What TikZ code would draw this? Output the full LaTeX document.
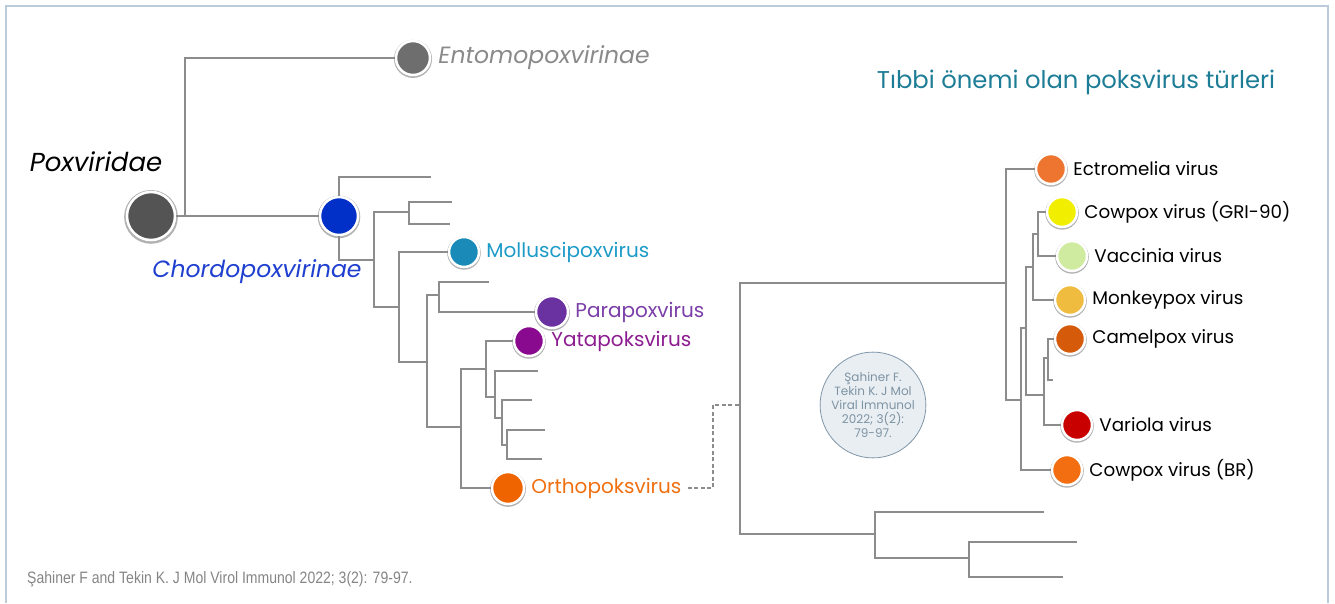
\documentclass[tikz,border=0pt]{standalone}
\usepackage{fontspec}
\setmainfont{Poppins}
\newfontfamily\footfont[FakeStretch=0.85]{Liberation Sans}
\usetikzlibrary{positioning,shadows}

\definecolor{branchgray}{HTML}{8C8C8C}
\definecolor{framecol}{HTML}{BCCBDA}
\definecolor{titlecol}{HTML}{1E7D96}
\definecolor{rootcol}{HTML}{545454}
\definecolor{entocol}{HTML}{6E6E6E}
\definecolor{entotxt}{HTML}{8A8A8A}
\definecolor{chordocol}{HTML}{0030C8}
\definecolor{chordotxt}{HTML}{1F3FD0}
\definecolor{mollcol}{HTML}{1A8AB8}
\definecolor{molltxt}{HTML}{1D9BC8}
\definecolor{paracol}{HTML}{6A32A0}
\definecolor{paratxt}{HTML}{7B3EA8}
\definecolor{yatacol}{HTML}{8A0A8F}
\definecolor{yatatxt}{HTML}{8C1C90}
\definecolor{orthocol}{HTML}{F06400}
\definecolor{orthotxt}{HTML}{F07010}
\definecolor{ectrocol}{HTML}{EE7530}
\definecolor{gricol}{HTML}{F2EE00}
\definecolor{vacccol}{HTML}{CFEBA0}
\definecolor{monkcol}{HTML}{F0BC40}
\definecolor{camelcol}{HTML}{D55A0A}
\definecolor{varcol}{HTML}{C80000}
\definecolor{brcol}{HTML}{F26E10}
\definecolor{citefill}{HTML}{E9EEF2}
\definecolor{citedraw}{HTML}{8096A8}
\definecolor{citetxt}{HTML}{7D93A3}
\definecolor{foottxt}{HTML}{858585}

\begin{document}
\begin{tikzpicture}[
        x=1pt, y=-1pt,
        branch/.style={draw=branchgray, line width=1.5pt},
        dashlink/.style={draw=branchgray, line width=1.2pt, dash pattern=on 4pt off 2.5pt},
        dot/.style={circle, fill=#1, draw=white, line width=2.5pt, minimum size=30pt,
            inner sep=0pt, drop shadow={shadow xshift=0pt, shadow yshift=-0.8pt,
            shadow scale=1.12, opacity=0.3, fill=black}},
        lab/.style={inner sep=1pt, font=\fontsize{18.3}{21}\selectfont},
        sublab/.style={inner sep=1pt, font=\fontsize{20}{23}\selectfont},
        ]
        \useasboundingbox (0,0) rectangle (1335,603);
        \draw[framecol, line width=1.2pt] (6,603) -- (6,6) -- (1328,6) -- (1328,603);

        % left tree
        \node (root) at (151,216) [dot=rootcol, minimum size=48pt] {};
        \node (poxlab) at (96,162) [font=\fontsize{26}{30}\selectfont\itshape] {Poxviridae};
        \node (ento) at (413,58) [dot=entocol, minimum size=34pt] {};
        \node (entolab) [right=6pt of ento, inner sep=1pt, text=entotxt,
            font=\fontsize{23.5}{27}\selectfont\itshape] {Entomopoxvirinae};
        \node (chordo) at (339,216) [dot=chordocol, minimum size=38pt] {};
        \node (chordolab) at (257,272) [text=chordotxt,
            font=\fontsize{23.5}{27}\selectfont\itshape] {Chordopoxvirinae};
        \node (moll) at (464,252) [dot=mollcol] {};
        \node (mollab) [right=5pt of moll, sublab, text=molltxt] {Molluscipoxvirus};
        \node (para) at (552,312) [dot=paracol, minimum size=32pt] {};
        \node (paralab) [right=5pt of para, sublab, text=paratxt] {Parapoxvirus};
        \node (yata) at (529,341) [dot=yatacol] {};
        \node (yatalab) [right=5pt of yata, sublab, text=yatatxt] {Yatapoksvirus};
        \node (ortho) at (508,488) [dot=orthocol, minimum size=32pt] {};
        \node (ortholab) [right=5pt of ortho, sublab, text=orthotxt] {Orthopoksvirus};

        \coordinate (r1) at (185,216);
        \coordinate (c2) at (374,260);
        \coordinate (c3) at (409,212);
        \coordinate (c4) at (399,307);
        \coordinate (c5) at (427,362);
        \coordinate (c6) at (439,295);
        \coordinate (c7) at (461,427);
        \coordinate (c8) at (486,369);
        \coordinate (c9) at (495,397);
        \coordinate (c10) at (502,418);
        \coordinate (c11) at (507,445);

        \draw[branch] (root) -- (chordo);
        \draw[branch] (r1) |- (ento);
        \draw[branch] (chordo) |- (431,177);
        \draw[branch] (chordo) |- (c2);
        \draw[branch] (c2) |- (c3);
        \draw[branch] (c2) |- (c4);
        \draw[branch] (c3) |- (452,202);
        \draw[branch] (c3) |- (450,224);
        \draw[branch] (c4) |- (moll);
        \draw[branch] (c4) |- (c5);
        \draw[branch] (c5) |- (c6);
        \draw[branch] (c5) |- (c7);
        \draw[branch] (c6) |- (489,282);
        \draw[branch] (c6) |- (para);
        \draw[branch] (c7) |- (c8);
        \draw[branch] (c7) |- (ortho);
        \draw[branch] (c8) |- (yata);
        \draw[branch] (c8) |- (c9);
        \draw[branch] (c9) |- (538,371);
        \draw[branch] (c9) |- (c10);
        \draw[branch] (c10) |- (532,400);
        \draw[branch] (c10) |- (c11);
        \draw[branch] (c11) |- (545,430);
        \draw[branch] (c11) |- (542,459);

        % right tree
        \node (title) at (1076,82) [text=titlecol, font=\fontsize{24.3}{28}\selectfont]
            {Tıbbi önemi olan poksvirus türleri};
        \node (ectro) at (1051,169) [dot=ectrocol] {};
        \node (ectrolab) [right=5pt of ectro, lab] {Ectromelia virus};
        \node (gri) at (1062,212) [dot=gricol] {};
        \node (grilab) [right=5pt of gri, lab] {Cowpox virus (GRI-90)};
        \node (vacc) at (1072,256) [dot=vacccol] {};
        \node (vacclab) [right=5pt of vacc, lab] {Vaccinia virus};
        \node (monk) at (1070,300) [dot=monkcol] {};
        \node (monklab) [right=5pt of monk, lab] {Monkeypox virus};
        \node (camel) at (1070,339) [dot=camelcol] {};
        \node (camellab) [right=5pt of camel, lab] {Camelpox virus};
        \node (vario) at (1077,425) [dot=varcol] {};
        \node (variolab) [right=5pt of vario, lab] {Variola virus};
        \node (cowbr) at (1067,470) [dot=brcol] {};
        \node (cowbrlab) [right=5pt of cowbr, lab] {Cowpox virus (BR)};

        \node (cite) at (873,405) [circle, minimum size=92pt, inner sep=0pt,
            fill=citefill, draw=citedraw, line width=0.8pt, text=citetxt, align=center,
            font=\fontsize{12}{14}\selectfont]
            {Şahiner F.\\Tekin K. J Mol\\Viral Immunol\\2022; 3(2):\\79-97.};

        \coordinate (jn) at (740,405);
        \coordinate (dk) at (713,405);
        \coordinate (s1) at (1006,283);
        \coordinate (s2) at (875,534);
        \coordinate (s3) at (1021,400);
        \coordinate (s4) at (1026,328);
        \coordinate (s5) at (1033,267);
        \coordinate (s6) at (1044,395);
        \coordinate (s7) at (1038,234);
        \coordinate (s8) at (1048,358);
        \coordinate (s9) at (969,558);

        \draw[dashlink, shorten <=5pt] (ortholab.east) -| (dk) -- (jn);
        \draw[branch] (jn) |- (s1);
        \draw[branch] (jn) |- (s2);
        \draw[branch] (s1) |- (ectro);
        \draw[branch] (s1) |- (s3);
        \draw[branch] (s3) |- (s4);
        \draw[branch] (s3) |- (cowbr);
        \draw[branch] (s4) |- (s5);
        \draw[branch] (s4) |- (s6);
        \draw[branch] (s5) |- (s7);
        \draw[branch] (s5) |- (monk);
        \draw[branch] (s7) |- (gri);
        \draw[branch] (s7) |- (vacc);
        \draw[branch] (s6) |- (s8);
        \draw[branch] (s6) |- (vario);
        \draw[branch] (s8) |- (camel);
        \draw[branch] (s8) |- (1053,380);
        \draw[branch] (s2) |- (1044,512);
        \draw[branch] (s2) |- (s9);
        \draw[branch] (s9) |- (1077,542);
        \draw[branch] (s9) |- (1063,577);

        \node (foot) at (27,579) [anchor=west, inner sep=0pt, text=foottxt,
            font=\footfont\fontsize{16.5}{19}\selectfont]
            {Şahiner F and Tekin K. J Mol Virol Immunol 2022; 3(2): 79-97.};
    \end{tikzpicture}
\end{document}
